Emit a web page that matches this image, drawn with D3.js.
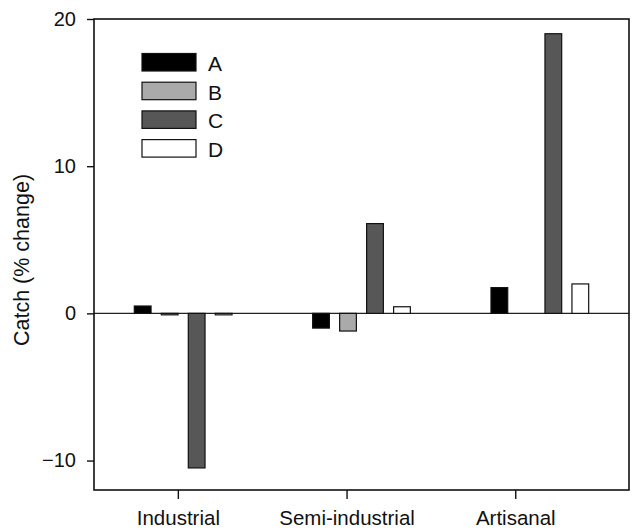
<!DOCTYPE html>
<html>
<head>
<meta charset="utf-8">
<script src="https://cdn.jsdelivr.net/npm/d3@7"></script>
<style>
  body { margin: 0; background: #fff; }
  text { font-family: "Liberation Sans", Arial, sans-serif; fill: #111; }
</style>
</head>
<body>
<div id="viz"></div>
<script>
// data
var sectors = ["Industrial", "Semi-industrial", "Artisanal"]
var series = ["A", "B", "C", "D"]
var valuesA = [0.5, -1.0, 1.75]
var valuesB = [-0.1, -1.2, 0]
var valuesC = [-10.5, 6.1, 19.0]
var valuesD = [-0.1, 0.45, 2.0]
var yTicks = [-10, 0, 10, 20]

var w = 632
var h = 531
// plot box (note: "top" is taken by window.top, so use plot* names)
var plotL = 94, plotR = 629, plotT = 19, plotB = 490

var fills = { A: "#000000", B: "#aaaaaa", C: "#575757", D: "#ffffff" }

var rows = []
sectors.forEach((s, i) => {
  rows.push({ sector: s, key: "A", v: valuesA[i] })
  rows.push({ sector: s, key: "B", v: valuesB[i] })
  rows.push({ sector: s, key: "C", v: valuesC[i] })
  rows.push({ sector: s, key: "D", v: valuesD[i] })
})

var svg = d3.select("#viz").append("svg")
  .attr("width", w)
  .attr("height", h)

var y = d3.scaleLinear().domain([-12, 20]).range([plotB, plotT])

// tick positions and bar groups are not quite aligned in the original
var xTick = d3.scaleBand().domain(sectors).range([plotL, plotL + 3 * 168.7])
var xGroup = d3.scaleBand().domain(sectors).range([plotL, plotR])
var xInner = d3.scaleBand().domain(series).range([0, 97.7]).paddingInner(0.38)

// zero line
svg.append("line")
  .attr("x1", plotL).attr("x2", plotR)
  .attr("y1", y(0)).attr("y2", y(0))
  .attr("stroke", "#222").attr("stroke-width", 1.2)

// bars
svg.selectAll(".bar").data(rows.filter(d => d.v !== 0))
  .enter()
  .append("rect")
  .attr("class", "bar")
  .attr("x", d => xGroup(d.sector) + xGroup.bandwidth() / 2 - 48.85 + xInner(d.key))
  .attr("width", xInner.bandwidth())
  .attr("y", d => y(Math.max(0, d.v)))
  .attr("height", d => Math.abs(y(d.v) - y(0)))
  .attr("fill", d => fills[d.key])
  .attr("stroke", "#111")
  .attr("stroke-width", 1.2)

// frame
svg.append("rect")
  .attr("x", plotL).attr("y", plotT)
  .attr("width", plotR - plotL).attr("height", plotB - plotT)
  .attr("fill", "none").attr("stroke", "#111").attr("stroke-width", 1.6)

// y axis
var yAxis = svg.append("g")
  .attr("transform", "translate(" + plotL + ",0)")
  .call(d3.axisLeft(y).tickValues(yTicks).tickSize(7).tickPadding(11))
yAxis.select(".domain").remove()
yAxis.selectAll("line").attr("stroke", "#111").attr("stroke-width", 1.4)
yAxis.selectAll("text").style("font-size", "20px").attr("fill", "#111")

// x axis
var xAxis = svg.append("g")
  .attr("transform", "translate(0," + plotB + ")")
  .call(d3.axisBottom(xTick).tickSize(9).tickPadding(11))
xAxis.select(".domain").remove()
xAxis.selectAll("line").attr("stroke", "#111").attr("stroke-width", 1.4)
xAxis.selectAll("text").style("font-size", "20.5px").attr("fill", "#111")

// y title
svg.append("text")
  .attr("transform", "translate(29,260) rotate(-90)")
  .attr("text-anchor", "middle")
  .style("font-size", "21.5px")
  .text("Catch (% change)")

// legend
var legend = svg.selectAll(".legend").data(series)
  .enter()
  .append("g")
  .attr("class", "legend")
  .attr("transform", (d, i) => "translate(142," + (53.5 + i * 28.7) + ")")

legend.append("rect")
  .attr("width", 54).attr("height", 17.5)
  .attr("fill", d => fills[d])
  .attr("stroke", "#111").attr("stroke-width", 1.2)

legend.append("text")
  .attr("x", 66).attr("y", 17.5)
  .style("font-size", "21px")
  .text(d => d)
</script>
</body>
</html>
